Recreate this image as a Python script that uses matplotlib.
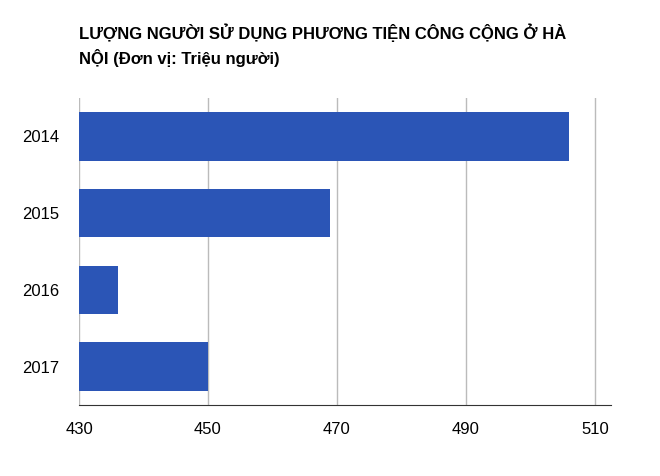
import matplotlib.pyplot as plt

years = ["2014", "2015", "2016", "2017"]
values = [506, 469, 436, 450]
ticks = [430, 450, 470, 490, 510]

W, H = 660, 476
fig = plt.figure(figsize=(W / 100, H / 100), dpi=100)
ax = fig.add_axes([79 / W, 1 - 405 / H, 532 / W, (405 - 98) / H])

pos = list(range(len(years)))
ax.barh(pos, [v - 430 for v in values], left=430, height=0.63, color="#2b55b6", zorder=3)
ax.set_ylim(len(years) - 0.5, -0.5)
ax.set_xlim(430, 512.5)
ax.set_yticks(pos)
ax.set_yticklabels(years, fontsize=12, family="Liberation Sans")
ax.set_xticks(ticks)
ax.set_xticklabels([str(t) for t in ticks], fontsize=12, family="Liberation Sans")
ax.tick_params(length=0, pad=12)
ax.tick_params(axis="y", pad=14)
ax.grid(axis="x", color="#bbbbbb", linewidth=1, zorder=0)
for s in ["top", "right", "left"]:
    ax.spines[s].set_visible(False)
ax.spines["bottom"].set_color("#333333")

fig.text(79 / W, 1 - 33 / H, "LƯỢNG NGƯỜI SỬ DỤNG PHƯƠNG TIỆN CÔNG CỘNG Ở HÀ",
         fontsize=12, fontweight="bold", family="Liberation Sans", va="center")
fig.text(79 / W, 1 - 58 / H, "NỘI (Đơn vị: Triệu người)",
         fontsize=12, fontweight="bold", family="Liberation Sans", va="center")

fig.savefig("out.png", dpi=100)
